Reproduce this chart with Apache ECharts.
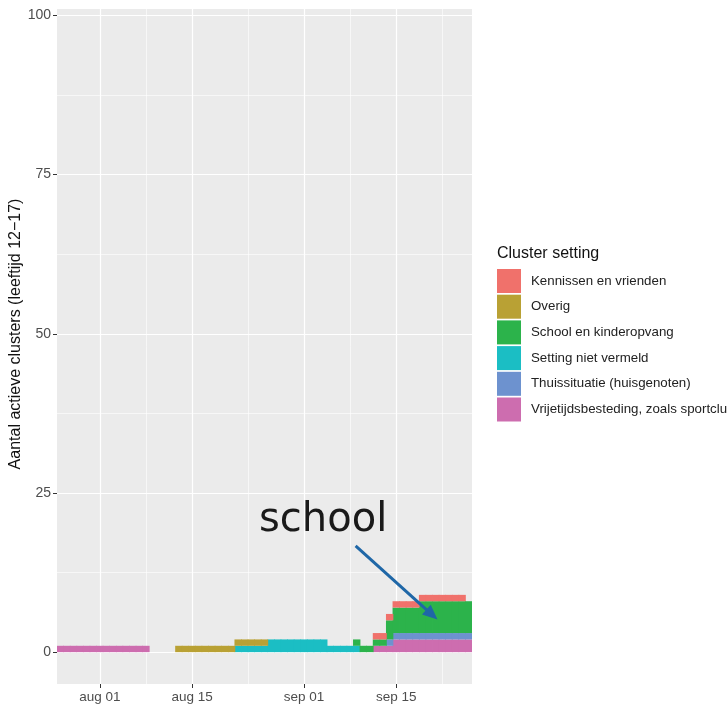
<!DOCTYPE html>
<html>
<head>
<meta charset="utf-8">
<script src="https://cdn.jsdelivr.net/npm/echarts@6/dist/echarts.min.js"></script>
<style>
html,body{margin:0;padding:0;background:#fff}
#chart{width:727px;height:706px}
</style>
</head>
<body>
<div id="chart"></div>
<script>
// dagen 26 jul t/m 26 sep 2020
var firstDay = '2020-07-26';
var nDays = 63;
var refDay = '2020-08-01';

var tickDates = ['2020-08-01', '2020-08-15', '2020-09-01', '2020-09-15'];
var tickLabels = ['aug 01', 'aug 15', 'sep 01', 'sep 15'];
var minorXDates = ['2020-08-08', '2020-08-23 12', '2020-09-08', '2020-09-22'];
var yTicks = [0, 25, 50, 75, 100];
var yMinor = [12.5, 37.5, 62.5, 87.5];

var settings = ['Kennissen en vrienden', 'Overig', 'School en kinderopvang',
  'Setting niet vermeld', 'Thuissituatie (huisgenoten)', 'Vrijetijdsbesteding, zoals sportclub'];
var colors = ['#f0716b', '#b9a134', '#2cb34b', '#1bbec4', '#6d92cf', '#cd6daf'];

// per dag, 7 per rij
var kennissen = [
  0,0,0,0,0,0,0, 0,0,0,0,0,0,0, 0,0,0,0,0,0,0, 0,0,0,0,0,0,0, 0,0,0,0,0,0,0,
  0,0,0,0,0,0,0, 0,0,0,0,0,0,1, 1,1,1,1,1,1,1, 1,1,1,1,1,1,0];
var overig = [
  0,0,0,0,0,0,0, 0,0,0,0,0,0,0, 0,0,0,0,1,1,1, 1,1,1,1,1,1,1, 1,1,1,1,0,0,0,
  0,0,0,0,0,0,0, 0,0,0,0,0,0,0, 0,0,0,0,0,0,0, 0,0,0,0,0,0,0];
var school = [
  0,0,0,0,0,0,0, 0,0,0,0,0,0,0, 0,0,0,0,0,0,0, 0,0,0,0,0,0,0, 0,0,0,0,0,0,0,
  0,0,0,0,0,0,0, 0,0,0,1,1,1,1, 1,3,4,4,4,4,5, 5,5,5,5,5,5,5];
var nietVermeld = [
  0,0,0,0,0,0,0, 0,0,0,0,0,0,0, 0,0,0,0,0,0,0, 0,0,0,0,0,0,1, 1,1,1,1,2,2,2,
  2,2,2,2,2,2,1, 1,1,1,1,0,0,0, 0,0,0,0,0,0,0, 0,0,0,0,0,0,0];
var thuis = [
  0,0,0,0,0,0,0, 0,0,0,0,0,0,0, 0,0,0,0,0,0,0, 0,0,0,0,0,0,0, 0,0,0,0,0,0,0,
  0,0,0,0,0,0,0, 0,0,0,0,0,0,0, 0,1,1,1,1,1,1, 1,1,1,1,1,1,1];
var vrijetijd = [
  1,1,1,1,1,1,1, 1,1,1,1,1,1,1, 0,0,0,0,0,0,0, 0,0,0,0,0,0,0, 0,0,0,0,0,0,0,
  0,0,0,0,0,0,0, 0,0,0,0,0,0,1, 1,1,2,2,2,2,2, 2,2,2,2,2,2,2];

var arrowFrom = ['2020-09-08 20', 16.7];
var arrowTo = ['2020-09-20 10', 5.9];

function toDay(s) {
  var p = s.split(/[- ]/);
  var t = Date.UTC(+p[0], +p[1] - 1, +p[2], +(p[3] || 0));
  var r = refDay.split('-');
  return (t - Date.UTC(+r[0], +r[1] - 1, +r[2])) / 86400000;
}
var start = toDay(firstDay);
var dayLabels = [];
for (var i = 0; i < nDays; i++) dayLabels.push(String(start + i));
var tickDays = tickDates.map(toDay);
var minorDays = minorXDates.map(toDay);
var xMin = start - 0.5, xMax = start + nDays - 0.5;

var gridLeft = 57, gridRight = 255;
// iets breder dan de band zodat er geen naden tussen de dagen zitten
var barW = (727 - gridLeft - gridRight) / nDays + 0.8;

var stackOrder = [
  [vrijetijd, 5], [thuis, 4], [nietVermeld, 3], [school, 2], [overig, 1], [kennissen, 0]
];

var chart = echarts.init(document.getElementById('chart'));

var series = stackOrder.map(function (s) {
  return {
    name: settings[s[1]],
    type: 'bar',
    xAxisIndex: 2,
    stack: 'totaal',
    barWidth: barW,
    itemStyle: {color: colors[s[1]]},
    silent: true,
    data: s[0].map(function (v) { return v === 0 ? '-' : v; })
  };
});
series.push({
  type: 'line',
  xAxisIndex: 0,
  data: [],
  silent: true,
  markLine: {
    silent: true,
    symbol: ['none', 'triangle'],
    symbolSize: [13, 15],
    label: {show: false},
    lineStyle: {color: '#1f67a7', width: 3, type: 'solid'},
    data: [[
      {coord: [toDay(arrowFrom[0]), arrowFrom[1]]},
      {coord: [toDay(arrowTo[0]), arrowTo[1]]}
    ]]
  }
});

chart.setOption({
  animation: false,
  title: {
    text: 'Cluster setting',
    left: 497, top: 246, padding: 0,
    textStyle: {fontFamily: 'Liberation Sans', fontSize: 16, fontWeight: 'normal', color: '#111'}
  },
  legend: {
    orient: 'vertical',
    left: 497, top: 269, padding: 0,
    itemWidth: 24, itemHeight: 24, itemGap: 1.7,
    icon: 'rect',
    selectedMode: false,
    data: settings,
    textStyle: {fontFamily: 'Liberation Sans', fontSize: 13.3, color: '#222', padding: [0, 0, 0, 5]}
  },
  grid: {
    left: gridLeft, right: gridRight, top: 9, bottom: 22,
    containLabel: false, outerBoundsMode: 'none',
    show: true, backgroundColor: '#ebebeb', borderWidth: 0
  },
  xAxis: [{
    type: 'value', min: xMin, max: xMax,
    axisLine: {show: false, onZero: false},
    axisTick: {show: true, length: 4, customValues: tickDays, lineStyle: {color: '#333', width: 1}},
    axisLabel: {
      customValues: tickDays, margin: 6,
      fontFamily: 'Liberation Sans', fontSize: 13.5, color: '#4d4d4d',
      formatter: function (v) { return tickLabels[tickDays.indexOf(v)]; }
    },
    splitLine: {show: true, lineStyle: {color: '#fff', width: 1.2}}
  }, {
    type: 'value', min: xMin, max: xMax, position: 'bottom',
    axisLine: {show: false, onZero: false},
    axisTick: {show: false, customValues: minorDays},
    axisLabel: {show: false, customValues: minorDays},
    splitLine: {show: true, lineStyle: {color: '#fff', width: 0.6}}
  }, {
    type: 'category', data: dayLabels, position: 'bottom', show: false,
    axisLine: {onZero: false},
    splitLine: {show: false}
  }],
  yAxis: [{
    type: 'value', min: -5, max: 101,
    axisLine: {show: false, onZero: false},
    axisTick: {show: true, length: 4, customValues: yTicks, lineStyle: {color: '#333', width: 1}},
    axisLabel: {customValues: yTicks, margin: 6, fontFamily: 'Liberation Sans', fontSize: 14, color: '#4d4d4d'},
    splitLine: {show: true, lineStyle: {color: '#fff', width: 1.2}}
  }, {
    type: 'value', min: -5, max: 101, position: 'left',
    axisLine: {show: false, onZero: false},
    axisTick: {show: false, customValues: yMinor},
    axisLabel: {show: false, customValues: yMinor},
    splitLine: {show: true, lineStyle: {color: '#fff', width: 0.6}}
  }],
  graphic: [{
    type: 'text', x: 16, y: 334, rotation: Math.PI / 2, silent: true,
    style: {
      text: 'Aantal actieve clusters (leeftijd 12\u221217)',
      font: '16px "Liberation Sans"', fill: '#111', align: 'center', verticalAlign: 'middle'
    }
  }, {
    type: 'text', left: 259, top: 501, silent: true,
    style: {text: 'school', font: '40px "DejaVu Sans"', fill: '#1a1a1a'}
  }],
  series: series
});
</script>
</body>
</html>
